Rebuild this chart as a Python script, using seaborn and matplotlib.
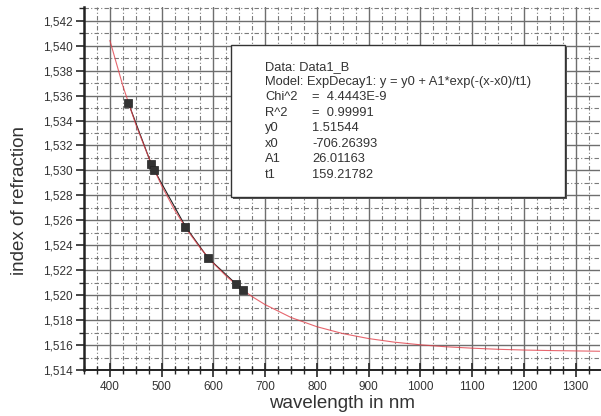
import matplotlib
matplotlib.use("Agg")
import matplotlib.pyplot as plt
import matplotlib.ticker as mticker
from matplotlib.patches import Rectangle
import pandas as pd
import seaborn as sns

# measured points (wavelength nm, refractive index)
wavelength = [435.8, 480.0, 486.1, 546.1, 589.3, 643.8, 656.3]
index_n = [1.5354, 1.5305, 1.5300, 1.5255, 1.5230, 1.5209, 1.5204]

# fit curve
fit_x = [400, 425, 450, 475, 500, 525, 550, 575, 600, 625, 650, 675, 700,
         750, 800, 850, 900, 950, 1000, 1050, 1100, 1150, 1200, 1250, 1300, 1350]
fit_y = [1.54042, 1.53679, 1.53369, 1.53104, 1.52877, 1.52683, 1.52518, 1.52376,
         1.52255, 1.52152, 1.52064, 1.51988, 1.51924, 1.51821, 1.51747, 1.51692,
         1.51652, 1.51623, 1.51602, 1.51586, 1.51575, 1.51566, 1.51560, 1.51556,
         1.51553, 1.51550]

box_names = ["Chi^2", "R^2", "y0", "x0", "A1", "t1"]
box_values = ["=  4.4443E-9", "=  0.99991", "1.51544", "-706.26393", "26.01163", "159.21782"]

sns.set_style("white")
plt.rcParams['font.family'] = ['Liberation Sans', 'DejaVu Sans']

pts = pd.DataFrame({"x": wavelength, "y": index_n})
fit = pd.DataFrame({"x": fit_x, "y": fit_y})

fig = plt.figure(figsize=(6.01, 4.16), dpi=100)
ax = fig.add_axes([84 / 601, 46 / 416, 516 / 601, 363 / 416])

# grid
ax.xaxis.set_major_locator(mticker.MultipleLocator(100))
ax.xaxis.set_minor_locator(mticker.MultipleLocator(25))
ax.yaxis.set_major_locator(mticker.MultipleLocator(0.002))
ax.yaxis.set_minor_locator(mticker.MultipleLocator(0.001))
ax.grid(which="major", color="#6e6e6e", lw=1.0, ls="-")
ax.grid(which="minor", color="#7a7a7a", lw=0.8, ls=(0, (4, 2, 1, 2)))
ax.set_axisbelow(True)

sns.lineplot(data=pts, x="x", y="y", ax=ax, color="#222222", lw=0.8, zorder=3)
sns.lineplot(data=fit, x="x", y="y", ax=ax, color="#e0404a", lw=0.8, alpha=0.8, zorder=4)
sns.scatterplot(data=pts, x="x", y="y", ax=ax, marker="s", s=38, color="#333333",
                edgecolor="#222222", linewidth=0.5, zorder=5)

ax.set_xlim(350, 1347)
ax.set_ylim(1.514, 1.5431)

ax.yaxis.set_major_formatter(mticker.FuncFormatter(lambda v, p: f"{v:.3f}".replace(".", ",")))
ax.tick_params(axis="y", which="major", direction="out", length=6, width=1.2,
               labelsize=8.5, labelcolor="#333333", pad=2, left=True)
ax.tick_params(axis="y", which="minor", direction="out", length=3.5, width=1.0, left=True)
ax.tick_params(axis="x", which="major", direction="inout", length=10, width=1.2,
               labelsize=8.5, labelcolor="#333333", pad=3, bottom=True)
ax.tick_params(axis="x", which="minor", direction="inout", length=6, width=1.0, bottom=True)

for side in ["top", "right"]:
    ax.spines[side].set_visible(False)
ax.spines["left"].set_linewidth(1.8)
ax.spines["bottom"].set_linewidth(1.4)
ax.spines["left"].set_color("#222222")
ax.spines["bottom"].set_color("#222222")

ax.set_xlabel("wavelength in nm", fontsize=13.5, color="#333333", labelpad=1)
ax.set_ylabel("index of refraction", fontsize=13.5, color="#333333")
ax.yaxis.set_label_coords(-0.108, 0.468)

# results box
def fx(px):
    return px / 601

def fy(py):
    return 1 - py / 416

shadow = Rectangle((fx(233), fy(199)), fx(565 - 231), (197 - 45) / 416,
                   transform=fig.transFigure, facecolor="#555555", edgecolor="none", zorder=6)
box = Rectangle((fx(231), fy(197)), fx(565 - 231), (197 - 45) / 416,
                transform=fig.transFigure, facecolor="white", edgecolor="#333333", lw=1.0, zorder=7)
fig.patches.extend([shadow, box])

txt_kw = dict(transform=fig.transFigure, fontsize=9.3, color="#333333", va="center", zorder=8)
fig.text(fx(265), fy(67), "Data: Data1_B", **txt_kw)
fig.text(fx(265), fy(82), "Model: ExpDecay1: y = y0 + A1*exp(-(x-x0)/t1)", **txt_kw)
rows_y = [97, 113, 128, 144, 159, 175]
for name, val, py in zip(box_names, box_values, rows_y):
    fig.text(fx(265), fy(py), name, **txt_kw)
    fig.text(fx(312), fy(py), val, **txt_kw)

fig.savefig("out.png", dpi=100)
